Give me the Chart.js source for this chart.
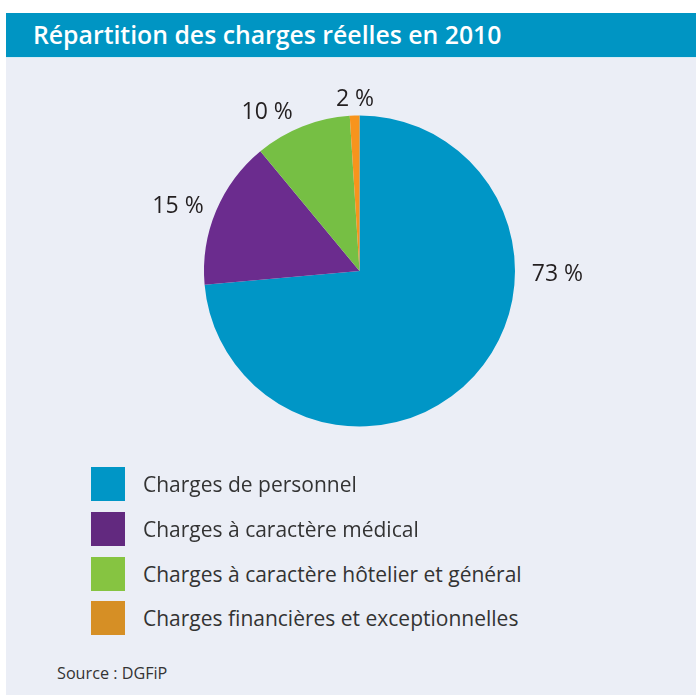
<!DOCTYPE html>
<html lang="fr">
<head>
<meta charset="utf-8">
<script src="https://cdn.jsdelivr.net/npm/chart.js@4.4.1/dist/chart.umd.min.js"></script>
<style>
  html, body { margin:0; padding:0; background:#ffffff; }
  body { width:696px; height:695px; position:relative; overflow:hidden; font-family:"Open Sans", sans-serif; }
  #panel { position:absolute; left:6px; top:57px; width:690px; height:638px; background:#ebeef6; }
  #header { position:absolute; left:6px; top:13px; width:690px; height:44px; background:#0095c3; border-bottom:1px solid #d6ecf5; }
  #title { position:absolute; left:33px; top:13px; height:44px; line-height:42px; color:#ffffff; font-size:24.8px; font-weight:600; white-space:nowrap; }
  #chart { position:absolute; left:0; top:60px; }
  #legend { position:absolute; left:91px; top:467px; }
  .item { position:relative; height:34px; margin-bottom:10.8px; }
  .box { position:absolute; left:0; top:0; width:34px; height:34px; }
  .txt { position:absolute; left:52px; top:0; height:34px; line-height:34px; font-size:21px; color:#333333; white-space:nowrap; }
  #source { position:absolute; left:57px; top:662px; font-size:16.2px; color:#333333; white-space:nowrap; }
</style>
</head>
<body>
<div id="panel"></div>
<div id="header"></div>
<div id="title">Répartition des charges réelles en 2010</div>
<canvas id="chart" width="696" height="420"></canvas>
<div id="legend"></div>
<div id="source">Source : DGFiP</div>
<script>
// ---- Data ----
const categories = [
  "Charges de personnel",
  "Charges à caractère médical",
  "Charges à caractère hôtelier et général",
  "Charges financières et exceptionnelles"
];
const shares = [73.6, 15.4, 10.0, 1.0];
const shareLabels = ["73 %", "15 %", "10 %", "2 %"];

// ---- Styles ----
const sliceColors = ["#0096c6", "#6b2c8e", "#76bf44", "#f7941d"];
const legendColors = ["#0096c6", "#62297f", "#86c441", "#d68f25"];
// label placement: [angle clockwise from top (deg), distance as factor of radius]
const labelPolar = [[90.6, 1.273], [290, 1.242], [330, 1.188], [358.5, 1.116]];

// ---- Legend ----
const legendEl = document.getElementById('legend');
categories.forEach((c, i) => {
  const it = document.createElement('div');
  it.className = 'item';
  const b = document.createElement('div');
  b.className = 'box';
  b.style.background = legendColors[i];
  const t = document.createElement('div');
  t.className = 'txt';
  t.textContent = c;
  it.appendChild(b); it.appendChild(t);
  legendEl.appendChild(it);
});

// ---- Labels plugin ----
const pctLabels = {
  id: 'pctLabels',
  afterDatasetsDraw(chart) {
    const ctx = chart.ctx;
    const meta = chart.getDatasetMeta(0);
    const fs = 23;
    ctx.save();
    ctx.font = fs + 'px "Open Sans", sans-serif';
    ctx.fillStyle = '#231f20';
    ctx.textAlign = 'center';
    ctx.textBaseline = 'alphabetic';
    meta.data.forEach((arc, i) => {
      const [deg, f] = labelPolar[i];
      const a = deg * Math.PI / 180;
      const r = arc.outerRadius * f;
      const x = arc.x + r * Math.sin(a);
      const y = arc.y - r * Math.cos(a);
      ctx.fillText(shareLabels[i], x, y + 0.357 * fs);
    });
    ctx.restore();
  }
};

new Chart(document.getElementById('chart'), {
  type: 'pie',
  data: {
    labels: categories,
    datasets: [{
      data: shares,
      backgroundColor: sliceColors,
      borderWidth: 0,
      radius: 155.5
    }]
  },
  options: {
    responsive: false,
    maintainAspectRatio: false,
    animation: false,
    layout: { padding: { left: 23, right: 0, top: 2, bottom: 0 } },
    plugins: { legend: { display: false }, tooltip: { enabled: false } }
  },
  plugins: [pctLabels]
});
</script>
</body>
</html>
